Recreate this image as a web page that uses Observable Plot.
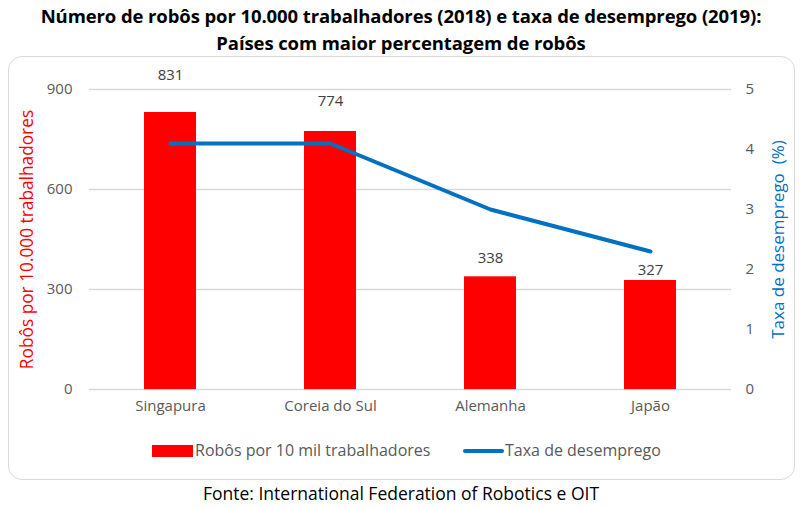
<!DOCTYPE html>
<html><head><meta charset="utf-8">
<script src="https://cdn.jsdelivr.net/npm/d3@7"></script>
<script src="https://cdn.jsdelivr.net/npm/@observablehq/plot@0.6"></script>
<style>
body{margin:0;background:#fff;width:802px;height:508px;position:relative;overflow:hidden;font-family:"Open Sans",sans-serif;}
#title{position:absolute;left:0;top:2px;width:802px;text-align:center;font-weight:700;font-size:18.5px;line-height:27px;color:#000;font-family:"Open Sans",sans-serif;letter-spacing:-0.1px;}
#box{position:absolute;left:8px;top:56px;width:785px;height:422px;border:1.5px solid #d9d9d9;border-radius:14px;}
#chart{position:absolute;left:0;top:56px;}
#legend{position:absolute;top:439px;left:0;width:802px;font-size:16px;color:#595959;}
.sw{position:absolute;}
#caption{position:absolute;top:481px;left:0;width:802px;text-align:center;font-size:17.5px;color:#000;}
</style></head><body>
<div id="title">Número de robôs por 10.000 trabalhadores (2018) e taxa de desemprego (2019):<br>Países com maior percentagem de robôs</div>
<div id="box"></div>
<div id="chart"></div>
<div id="legend">
  <div class="sw" style="left:152px;top:6px;width:41px;height:12px;background:#ff0000"></div>
  <div class="sw" style="left:195px;top:0px;">Robôs por 10 mil trabalhadores</div>
  <div class="sw" style="left:463px;top:10px;width:41px;height:4px;background:#0070c0;border-radius:2px"></div>
  <div class="sw" style="left:505px;top:0px;">Taxa de desemprego</div>
</div>
<div id="caption">Fonte: International Federation of Robotics e OIT</div>
<script>
const countries = ["Singapura", "Coreia do Sul", "Alemanha", "Japão"];
const robots = [831, 774, 338, 327];
const unemployment = [4.1, 4.1, 3.0, 2.3];
const leftTicks = [0, 300, 600, 900];
const rightTicks = [0, 1, 2, 3, 4, 5];

const k = 900 / 5;
const data = countries.map((c, i) => ({country: c, robots: robots[i], rate: unemployment[i]}));
const labelDy = {"Singapura": -37, "Coreia do Sul": -30, "Alemanha": -19, "Japão": -10};

const chart = Plot.plot({
  width: 802,
  height: 370,
  marginLeft: 89,
  marginRight: 71,
  marginTop: 33,
  marginBottom: 37,
  style: {fontFamily: "Open Sans, sans-serif", fontSize: "15px", color: "#595959", background: "transparent", overflow: "visible"},
  x: {type: "band", domain: countries, paddingInner: 0.676, paddingOuter: 0.338, align: 0.5, label: null},
  y: {domain: [0, 900], label: null},
  marks: [
    Plot.ruleY(leftTicks, {stroke: "#d9d9d9", strokeWidth: 1.3}),
    Plot.barY(data, {x: "country", y: "robots", fill: "#ff0000"}),
    ...data.map(d => Plot.text([d], {x: "country", y: "robots", text: d => String(d.robots), dy: labelDy[d.country], fill: "#404040", fontSize: 15})),
    Plot.line(data, {x: "country", y: d => d.rate * k, stroke: "#0070c0", strokeWidth: 4, strokeLinejoin: "round"}),
    Plot.axisX({tickSize: 0, tickPadding: 11, fontSize: 15, fill: "#595959", label: null}),
    Plot.axisY(leftTicks, {anchor: "left", tickSize: 0, tickPadding: 17, fontSize: 15, fill: "#595959", label: null}),
    Plot.axisY(rightTicks.map(t => t * k), {anchor: "right", tickSize: 0, tickPadding: 14, tickFormat: d => String(d / k), fontSize: 15, fill: "#595959", label: null}),
    Plot.text(["Robôs por 10.000 trabalhadores"], {frameAnchor: "left", dx: -62, rotate: -90, textAnchor: "middle", fill: "#ff0000", fontSize: 17.3}),
    Plot.text(["Taxa de desemprego  (%)"], {frameAnchor: "right", dx: 47, rotate: -90, textAnchor: "middle", fill: "#0070c0", fontSize: 17})
  ]
});
document.getElementById("chart").appendChild(chart);
</script>
</body></html>
